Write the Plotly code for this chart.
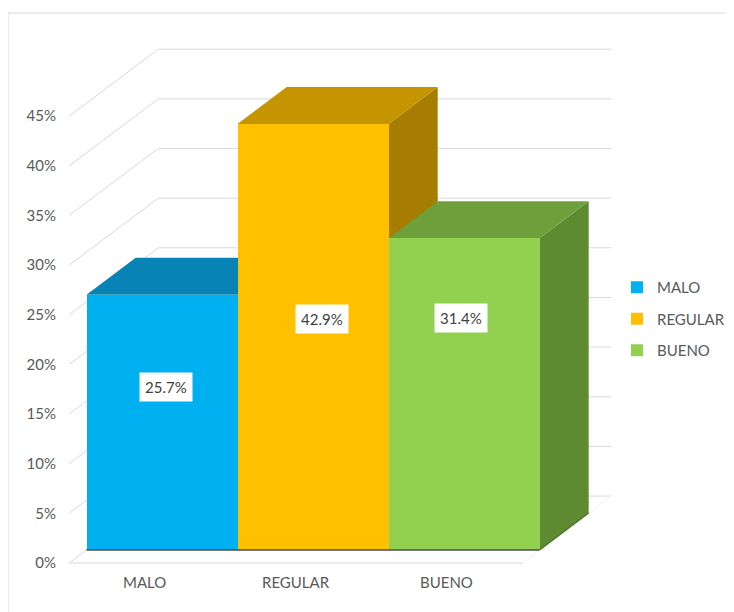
import plotly.graph_objects as go

# ---------------- data ----------------
categories = ["MALO", "REGULAR", "BUENO"]
values = [25.7, 42.9, 31.4]
value_labels = ["25.7%", "42.9%", "31.4%"]
y_ticks = [0, 5, 10, 15, 20, 25, 30, 35, 40, 45]
y_tick_labels = ["0%", "5%", "10%", "15%", "20%", "25%", "30%", "35%", "40%", "45%"]

# ---------------- style ----------------
front_colors = ["#00B0F0", "#FFC000", "#92D050"]
top_colors = ["#0784B5", "#C59500", "#6E9F3B"]
side_colors = ["#056E96", "#A67D00", "#5E8B31"]
grid_color = "#D9D9D9"
text_color = "#595959"
FONT = "Lato, 'Liberation Sans', Arial, sans-serif"
FS = 15

# data-label placement (offset from category centre, height in %)
label_dx = [0.026, 0.06, -0.02]
label_y = [16.4, 23.3, 23.4]

# oblique projection of depth (data units)
DX, DY = 0.59, 6.74      # full depth of the chart box
F0 = 0.194               # bars' front plane as fraction of depth
FB = 0.552               # bar depth as fraction of depth
bx, by = FB * DX, FB * DY

OFF = 8  # page body margin: screen px = figure px + OFF
W, H = 734, 612
ML, MR, MT, MB = 48, 117, 22, 30
px_x0, px_unit = 162.0 - OFF, 151.0
px_base, px_pct = 550.0 - OFF, 9.93
x_range = [(ML - px_x0) / px_unit, (W - MR - px_x0) / px_unit]
y_range = [(px_base - (H - MB)) / px_pct, (px_base - MT) / px_pct]
PW, PH = W - ML - MR, H - MT - MB

fig = go.Figure()

for i, (cat, v) in enumerate(zip(categories, values)):
    fig.add_trace(go.Bar(
        x=[i], y=[v], width=1.0, name=cat,
        marker=dict(color=front_colors[i], line=dict(width=0)),
        legendgroup=cat, hoverinfo="skip",
    ))

shapes = []
# ----- box gridlines -----
fl = -0.5 - F0 * DX
fr = len(categories) - 0.5 - F0 * DX
bl = -0.5 + (1 - F0) * DX
br = len(categories) - 0.5 + (1 - F0) * DX
for t in y_ticks:
    yf = t - F0 * DY
    yb = t + (1 - F0) * DY
    shapes.append(dict(type="line", xref="x", yref="y", x0=fl, y0=yf, x1=bl, y1=yb,
                       line=dict(color=grid_color, width=1), layer="below"))
    shapes.append(dict(type="line", xref="x", yref="y", x0=bl, y0=yb, x1=br, y1=yb,
                       line=dict(color=grid_color, width=1), layer="below"))
# floor front edge and right edge
shapes.append(dict(type="line", xref="x", yref="y", x0=fl, y0=-F0 * DY, x1=fr, y1=-F0 * DY,
                   line=dict(color=grid_color, width=1), layer="below"))
shapes.append(dict(type="line", xref="x", yref="y", x0=fr, y0=-F0 * DY, x1=br, y1=(1 - F0) * DY,
                   line=dict(color="#F0F0F0", width=1), layer="below"))

# ----- 3D faces of bars (drawn below the front faces) -----
for i, v in enumerate(values):
    xl, xr = i - 0.5, i + 0.5
    top = (f"M {xl},{v} L {xr},{v} L {xr + bx},{v + by} L {xl + bx},{v + by} Z")
    side = (f"M {xr},0 L {xr},{v} L {xr + bx},{v + by} L {xr + bx},{by} Z")
    shapes.append(dict(type="path", xref="x", yref="y", path=side,
                       fillcolor=side_colors[i], line=dict(width=0), layer="below"))
    shapes.append(dict(type="path", xref="x", yref="y", path=top,
                       fillcolor=top_colors[i], line=dict(width=0), layer="below"))

# dark base edge of bars
shapes.append(dict(type="line", xref="x", yref="y", x0=-0.5, y0=0, x1=len(categories) - 0.5, y1=0,
                   line=dict(color="#4D4D4D", width=1.5), layer="above"))
shapes.append(dict(type="line", xref="x", yref="y", x0=len(categories) - 0.5, y0=0,
                   x1=len(categories) - 0.5 + bx, y1=by,
                   line=dict(color="#4A6E27", width=1.2), layer="above"))

# chart-area border (top and left visible)
bx_paper = (7 - OFF - ML) / PW
by_paper = ((H - MB) - (13 - OFF)) / PH
shapes.append(dict(type="line", xref="paper", yref="paper", x0=bx_paper, y0=by_paper, x1=1.5, y1=by_paper,
                   line=dict(color=grid_color, width=1)))
shapes.append(dict(type="line", xref="paper", yref="paper", x0=bx_paper + 0.0018, y0=by_paper,
                   x1=bx_paper + 0.0018, y1=-0.2,
                   line=dict(color=grid_color, width=1)))

annotations = []
for i, cat in enumerate(categories):
    annotations.append(dict(x=i - F0 * DX, y=-F0 * DY - 19 / px_pct, xref="x", yref="y",
                            text=cat, showarrow=False,
                            font=dict(family=FONT, size=FS, color=text_color)))
for i, lab in enumerate(value_labels):
    annotations.append(dict(x=i + label_dx[i], y=label_y[i], xref="x", yref="y",
                            text=lab, showarrow=False, bgcolor="white", borderpad=5,
                            font=dict(family=FONT, size=FS, color="#404040")))

fig.update_layout(
    width=W, height=H,
    margin=dict(l=ML, r=MR, t=MT, b=MB, autoexpand=False),
    paper_bgcolor="white", plot_bgcolor="rgba(0,0,0,0)",
    barmode="overlay", bargap=0,
    shapes=shapes, annotations=annotations,
    xaxis=dict(range=x_range, visible=False, fixedrange=True),
    yaxis=dict(range=y_range, visible=False, fixedrange=True),
    yaxis2=dict(range=[y_range[0] + F0 * DY, y_range[1] + F0 * DY], overlaying="y",
                anchor="free", position=0, side="left",
                tickvals=y_ticks, ticktext=y_tick_labels, showgrid=False, zeroline=False,
                showline=False, ticks="", tickfont=dict(family=FONT, size=FS, color=text_color)),
    legend=dict(x=(617 - OFF - ML) / PW, xanchor="left",
                y=((H - MB) - (271 - OFF)) / PH, yanchor="top",
                font=dict(family=FONT, size=FS, color=text_color),
                tracegroupgap=9, bgcolor="rgba(0,0,0,0)"),
    showlegend=True,
)

# invisible trace to activate yaxis2
fig.add_trace(go.Scatter(x=[None], y=[None], yaxis="y2", showlegend=False, hoverinfo="skip"))

fig.write_html("out.html")
